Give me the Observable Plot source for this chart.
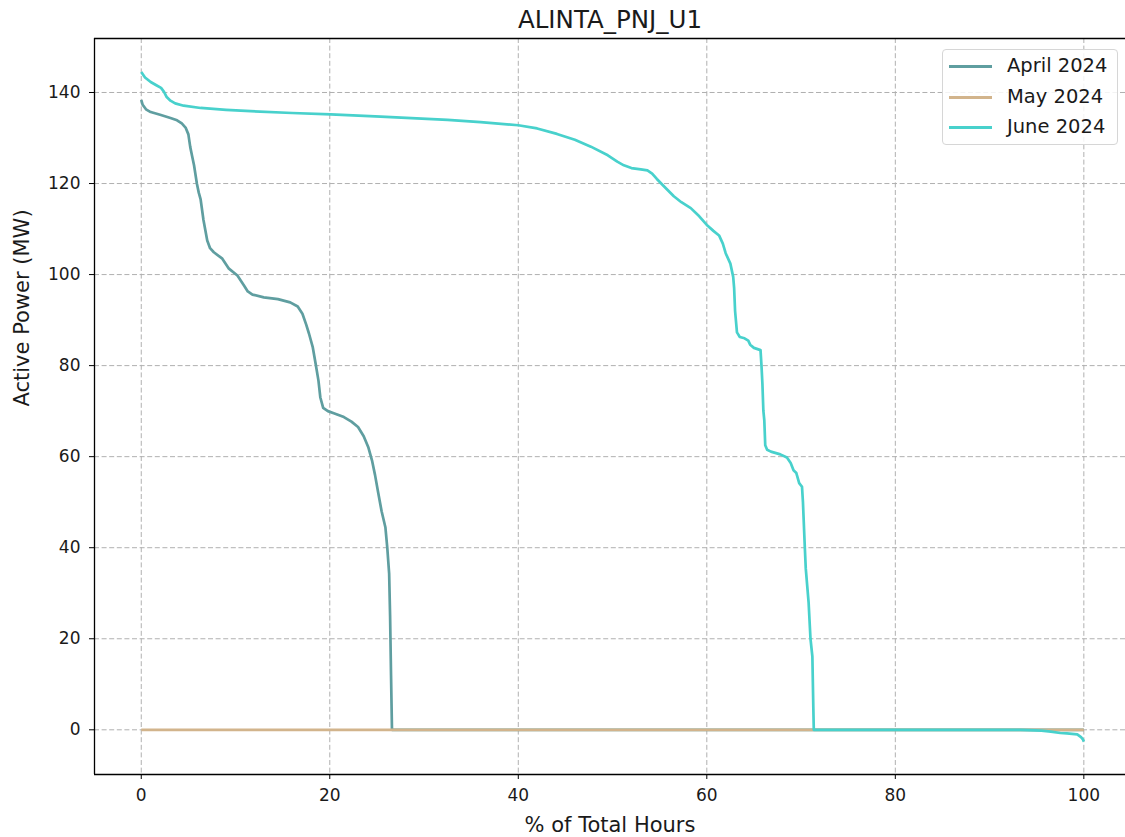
<!DOCTYPE html>
<html>
<head>
<meta charset="utf-8">
<script src="https://cdn.jsdelivr.net/npm/d3@7"></script>
<script src="https://cdn.jsdelivr.net/npm/@observablehq/plot@0.6"></script>
<style>
  html, body { margin: 0; padding: 0; background: #fff; overflow: hidden; }
  #wrap { position: relative; width: 1125px; height: 837px; font-family: "DejaVu Sans", sans-serif; }
  #legend { position: absolute; left: 942px; top: 49px; width: 176px; height: 96px;
    border: 1px solid #d6d6d6; border-radius: 4px; background: rgba(255,255,255,0.85); box-sizing: border-box; }
  .lg-line { position: absolute; left: 6px; width: 43px; height: 3px; }
  .lg-text { position: absolute; left: 64px; font-size: 19.5px; color: #1a1a1a; line-height: 1; white-space: nowrap; }
</style>
</head>
<body>
<div id="wrap"></div>
<script>
// ---- data ----
const title = "ALINTA_PNJ_U1";
const xLabel = "% of Total Hours";
const yLabel = "Active Power (MW)";
const seriesNames = ["April 2024", "May 2024", "June 2024"];
const seriesColors = ["#5F9EA0", "#D2B48C", "#48D1CC"];
const xTicks = [0, 20, 40, 60, 80, 100];
const yTicks = [0, 20, 40, 60, 80, 100, 120, 140];

const aprilX = [0, 0.15, 0.5, 1.0, 2.0, 3.1, 3.8, 4.3, 4.7, 5.0, 5.2, 5.4, 5.6, 5.9, 6.1, 6.3, 6.6, 7.0, 7.3, 7.7, 8.6, 9.3, 10.2, 10.9, 11.3, 11.8, 13.0, 14.5, 15.8, 16.6, 17.1, 17.5, 17.8, 18.2, 18.5, 18.8, 19.0, 19.3, 19.8, 20.5, 21.5, 22.3, 23.0, 23.6, 24.1, 24.5, 24.8, 25.1, 25.5, 25.9, 26.1, 26.3, 26.4, 26.5, 26.6, 100];
const aprilY = [138.4, 137.3, 136.3, 135.7, 135.1, 134.4, 133.9, 133.2, 132.3, 130.8, 128.0, 126.0, 124.0, 120.0, 118.0, 116.5, 112.0, 107.5, 105.8, 104.9, 103.5, 101.3, 99.8, 97.6, 96.3, 95.6, 95.0, 94.6, 93.9, 93.0, 91.4, 89.0, 87.0, 84.0, 80.4, 76.7, 73.0, 70.7, 70.0, 69.5, 68.7, 67.7, 66.5, 64.5, 62.0, 59.0, 56.0, 52.5, 48.0, 44.5, 40.0, 34.3, 25.0, 12.0, 0, 0];

const mayX = [0, 100];
const mayY = [0, 0];

const juneX = [0, 0.4, 1.0, 1.6, 2.1, 2.4, 2.7, 3.1, 3.6, 4.5, 6.3, 9.0, 11.6, 16.0, 20.1, 25.4, 32.5, 36.0, 40.0, 42.0, 44.1, 46.0, 47.7, 49.5, 50.5, 51.2, 52.0, 53.0, 53.7, 54.2, 54.7, 55.5, 56.5, 57.3, 58.3, 59.2, 60.0, 60.7, 61.3, 61.7, 62.0, 62.5, 62.8, 62.9, 63.0, 63.2, 63.5, 64.0, 64.4, 64.6, 65.0, 65.7, 65.8, 65.9, 66.0, 66.1, 66.2, 66.4, 66.8, 67.8, 68.5, 68.9, 69.2, 69.5, 69.8, 70.1, 70.2, 70.4, 70.5, 70.8, 71.0, 71.2, 71.3, 71.35, 93.3, 95.5, 96.5, 97.5, 98.2, 99.3, 99.7, 99.9, 100];
const juneY = [144.5, 143.3, 142.3, 141.6, 141.0, 140.2, 139.0, 138.2, 137.6, 137.1, 136.6, 136.2, 135.9, 135.5, 135.2, 134.7, 134.0, 133.5, 132.8, 132.1, 130.9, 129.6, 128.1, 126.2, 124.8, 124.0, 123.4, 123.1, 122.9, 122.2, 121.0, 119.3, 117.2, 115.9, 114.6, 112.8, 110.9, 109.6, 108.6, 106.8, 104.7, 102.4, 99.5, 97.0, 92.0, 87.3, 86.3, 86.0, 85.5, 84.6, 83.9, 83.4, 80.0, 76.0, 70.1, 68.0, 62.5, 61.5, 61.1, 60.5, 59.8, 58.6, 57.0, 56.4, 54.2, 53.4, 50.0, 40.0, 35.4, 28.0, 20.0, 16.1, 5.0, 0, 0, -0.2, -0.4, -0.7, -0.8, -1.0, -1.6, -2.1, -2.6];

// ---- build table ----
const rows = [];
[[aprilX, aprilY], [mayX, mayY], [juneX, juneY]].forEach(([xs, ys], i) => {
  xs.forEach((x, j) => rows.push({series: seriesNames[i], x, y: ys[j]}));
});

const xDomain = [-4.96, 104.42];
const yDomain = [-9.82, 151.86];
const font = "DejaVu Sans, sans-serif";

const chart = Plot.plot({
  width: 1125,
  height: 837,
  marginLeft: 94,
  marginRight: 0,
  marginTop: 38,
  marginBottom: 63,
  style: {fontFamily: font, fontSize: "17px", color: "#1a1a1a", background: "white"},
  x: {domain: xDomain},
  y: {domain: yDomain},
  color: {domain: seriesNames, range: seriesColors},
  marks: [
    Plot.gridX(xTicks, {stroke: "#b0b0b0", strokeOpacity: 1, strokeWidth: 1, strokeDasharray: "5,2.6"}),
    Plot.gridY(yTicks, {stroke: "#b0b0b0", strokeOpacity: 1, strokeWidth: 1, strokeDasharray: "5,2.6"}),
    Plot.line(rows, {x: "x", y: "y", z: "series", stroke: "series", strokeWidth: 2.7, strokeLinejoin: "round", strokeLinecap: "butt"}),
    Plot.ruleX([xDomain[0]], {stroke: "black", strokeWidth: 1.3}),
    Plot.ruleY([yDomain[0], yDomain[1]], {stroke: "black", strokeWidth: 1.3}),
    Plot.axisX(xTicks, {label: null, tickSize: 5, tickPadding: 9, fontSize: 17, stroke: "black"}),
    Plot.axisY(yTicks, {label: null, tickSize: 5, tickPadding: 9, fontSize: 17, stroke: "black"}),
    Plot.text([title], {frameAnchor: "top", dy: -28, fontSize: 24.5, fill: "#1a1a1a"}),
    Plot.text([xLabel], {frameAnchor: "bottom", dy: 57, fontSize: 21, fill: "#1a1a1a"}),
    Plot.text([yLabel], {frameAnchor: "left", dx: -72, rotate: -90, fontSize: 21, fill: "#1a1a1a"})
  ]
});

const wrap = document.getElementById("wrap");
wrap.appendChild(chart);

// legend
const legend = document.createElement("div");
legend.id = "legend";
const rowTops = [16, 47, 77];
seriesNames.forEach((name, i) => {
  const ln = document.createElement("div");
  ln.className = "lg-line";
  ln.style.top = (rowTops[i] - 1.5) + "px";
  ln.style.background = seriesColors[i];
  legend.appendChild(ln);
  const tx = document.createElement("div");
  tx.className = "lg-text";
  tx.style.top = (rowTops[i] - 10) + "px";
  tx.textContent = name;
  legend.appendChild(tx);
});
wrap.appendChild(legend);
</script>
</body>
</html>
